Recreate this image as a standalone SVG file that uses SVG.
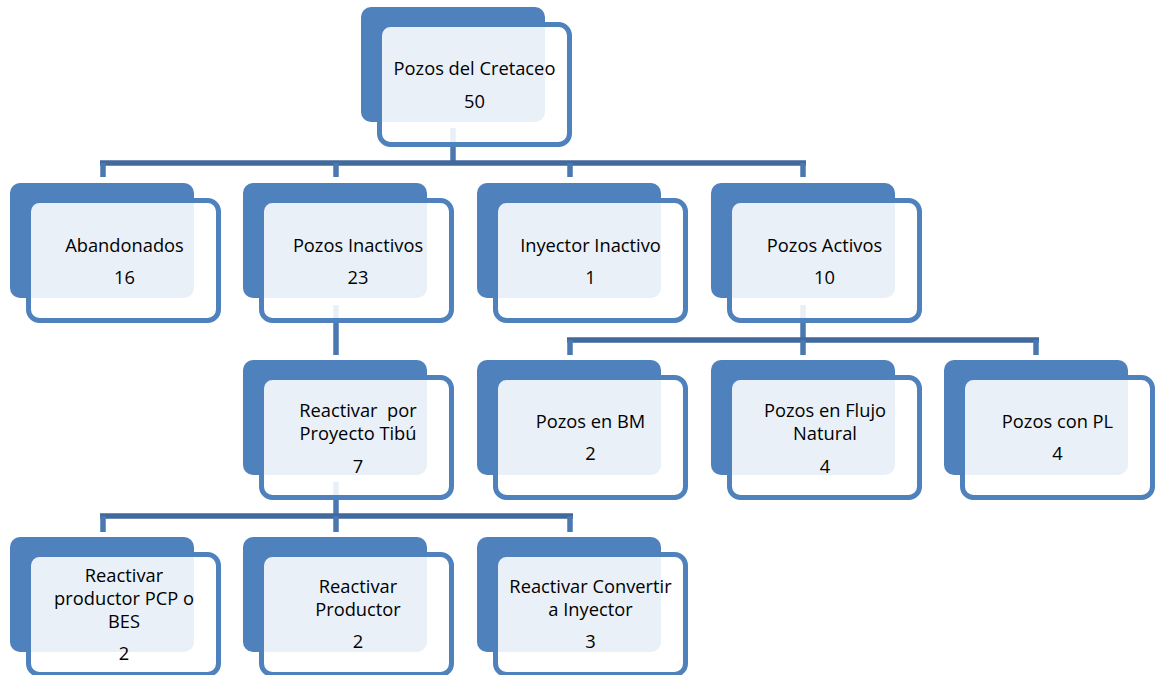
<svg xmlns="http://www.w3.org/2000/svg" width="1155" height="675" viewBox="0 0 1155 675">
<defs>
<style>
.back{fill:#4F81BD;}
.front{fill:#FFFFFF;fill-opacity:0.88;stroke:#4F81BD;stroke-width:5;}
.h{stroke:#41699C;stroke-width:5.5;fill:none;}
.v{stroke:#4A78B0;stroke-width:5.5;fill:none;}
text{font-family:"Open Sans","Liberation Sans",sans-serif;font-size:18.3px;fill:#000;text-anchor:middle;}
</style>
</defs>
<rect width="1155" height="675" fill="#FFFFFF"/>
<g id="connectors">
<line class="v" x1="453" y1="128" x2="453" y2="163"/>
<line class="h" x1="100" y1="163" x2="806" y2="163"/>
<line class="v" x1="103" y1="163" x2="103" y2="177"/>
<line class="v" x1="336" y1="163" x2="336" y2="177"/>
<line class="v" x1="570" y1="163" x2="570" y2="177"/>
<line class="v" x1="803" y1="163" x2="803" y2="177"/>
<line class="v" x1="336" y1="305" x2="336" y2="355"/>
<line class="v" x1="803" y1="305" x2="803" y2="340"/>
<line class="h" x1="567" y1="340" x2="1039" y2="340"/>
<line class="v" x1="570" y1="340" x2="570" y2="355"/>
<line class="v" x1="803" y1="340" x2="803" y2="355"/>
<line class="v" x1="1036" y1="340" x2="1036" y2="355"/>
<line class="v" x1="336" y1="482" x2="336" y2="516"/>
<line class="h" x1="100" y1="516" x2="573" y2="516"/>
<line class="v" x1="103" y1="516" x2="103" y2="532"/>
<line class="v" x1="336" y1="516" x2="336" y2="532"/>
<line class="v" x1="570" y1="516" x2="570" y2="532"/>
</g>
<g id="n-cretaceo">
<rect class="back" x="361" y="7" width="184" height="115" rx="10"/>
<rect class="front" x="379.5" y="24.5" width="190" height="120" rx="11"/>
<text x="474.5" y="75">Pozos del Cretaceo</text>
<text x="474.5" y="108">50</text>
</g>
<g id="n-abandonados">
<rect class="back" x="10" y="183" width="184" height="115" rx="10"/>
<rect class="front" x="28.5" y="200.5" width="190" height="120" rx="11"/>
<text x="124.5" y="252">Abandonados</text>
<text x="124.5" y="284">16</text>
</g>
<g id="n-inactivos">
<rect class="back" x="243" y="183" width="184" height="115" rx="10"/>
<rect class="front" x="261.5" y="200.5" width="190" height="120" rx="11"/>
<text x="358" y="252">Pozos Inactivos</text>
<text x="358" y="284">23</text>
</g>
<g id="n-inyector">
<rect class="back" x="477" y="183" width="184" height="115" rx="10"/>
<rect class="front" x="495.5" y="200.5" width="190" height="120" rx="11"/>
<text x="590.5" y="252">Inyector Inactivo</text>
<text x="590.5" y="284">1</text>
</g>
<g id="n-activos">
<rect class="back" x="711" y="183" width="184" height="115" rx="10"/>
<rect class="front" x="729.5" y="200.5" width="190" height="120" rx="11"/>
<text x="824.5" y="252">Pozos Activos</text>
<text x="824.5" y="284">10</text>
</g>
<g id="n-tibu">
<rect class="back" x="243" y="360" width="184" height="115" rx="10"/>
<rect class="front" x="261.5" y="377.5" width="190" height="120" rx="11"/>
<text x="358" y="417" style="white-space:pre">Reactivar  por</text>
<text x="358" y="440">Proyecto Tibú</text>
<text x="358" y="473">7</text>
</g>
<g id="n-bm">
<rect class="back" x="477" y="360" width="184" height="115" rx="10"/>
<rect class="front" x="495.5" y="377.5" width="190" height="120" rx="11"/>
<text x="590.5" y="428">Pozos en BM</text>
<text x="590.5" y="460">2</text>
</g>
<g id="n-flujo">
<rect class="back" x="711" y="360" width="184" height="115" rx="10"/>
<rect class="front" x="729.5" y="377.5" width="190" height="120" rx="11"/>
<text x="825" y="417">Pozos en Flujo</text>
<text x="825" y="440">Natural</text>
<text x="825" y="473">4</text>
</g>
<g id="n-pl">
<rect class="back" x="944" y="360" width="184" height="115" rx="10"/>
<rect class="front" x="962.5" y="377.5" width="190" height="120" rx="11"/>
<text x="1057.5" y="428">Pozos con PL</text>
<text x="1057.5" y="460">4</text>
</g>
<g id="n-pcp">
<rect class="back" x="10" y="537" width="184" height="115" rx="10"/>
<rect class="front" x="28.5" y="554.5" width="190" height="120" rx="11"/>
<text x="124" y="582">Reactivar</text>
<text x="124" y="605">productor PCP o</text>
<text x="124" y="628">BES</text>
<text x="124" y="660">2</text>
</g>
<g id="n-productor">
<rect class="back" x="243" y="537" width="184" height="115" rx="10"/>
<rect class="front" x="261.5" y="554.5" width="190" height="120" rx="11"/>
<text x="358" y="593">Reactivar</text>
<text x="358" y="616">Productor</text>
<text x="358" y="648">2</text>
</g>
<g id="n-convertir">
<rect class="back" x="477" y="537" width="184" height="115" rx="10"/>
<rect class="front" x="495.5" y="554.5" width="190" height="120" rx="11"/>
<text x="590.5" y="593">Reactivar Convertir</text>
<text x="590.5" y="616">a Inyector</text>
<text x="590.5" y="648">3</text>
</g>
</svg>
